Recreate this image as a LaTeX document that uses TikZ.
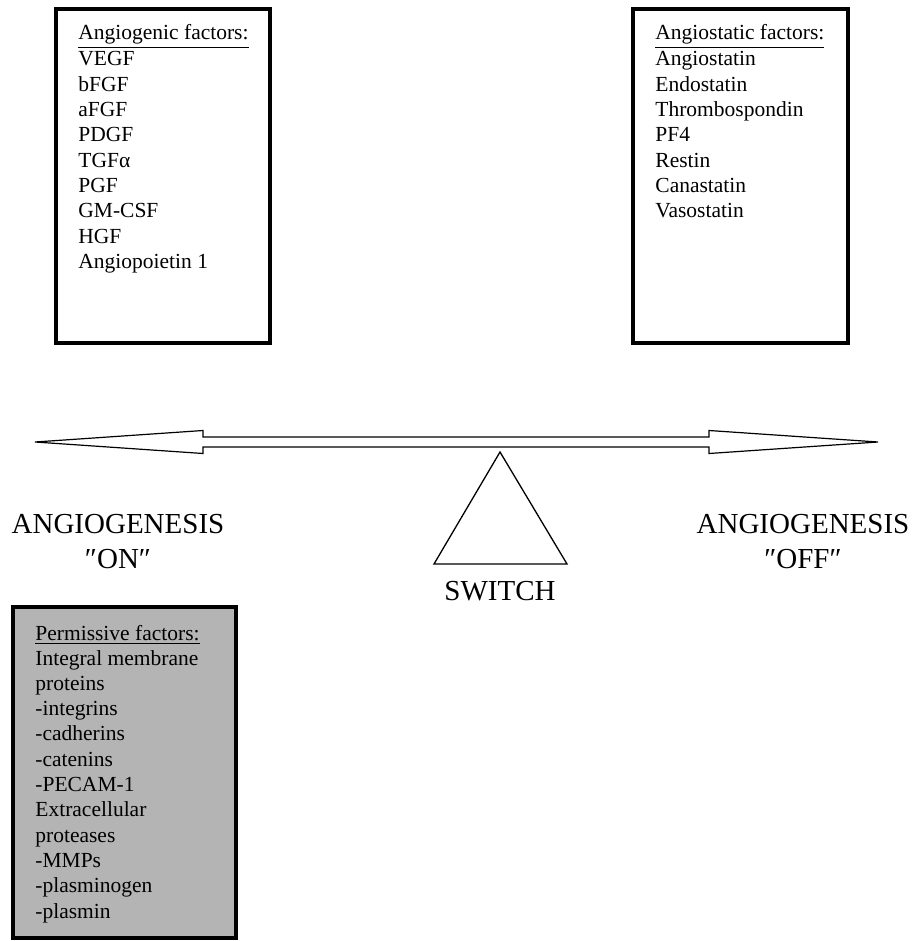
\documentclass[tikz,border=0pt]{standalone}
\usepackage{fontspec}
\setmainfont{Liberation Serif}
\definecolor{permgray}{RGB}{180,180,180}

\begin{document}
\begin{tikzpicture}[x=0.5pt,y=0.5pt,
  factorbox/.style={draw=black,line width=2pt},
  item/.style={anchor=base west,inner sep=0pt,font=\fontsize{10.75}{12.65}\selectfont},
  biglabel/.style={inner sep=0pt,align=center,font=\fontsize{14.5}{17.5}\selectfont}]
  \useasboundingbox (0,0) rectangle (916,-941);
  \draw [factorbox] (56,-9) rectangle (270,-343);
  \node [item] (genhead) at (78,-40) {\underline{Angiogenic factors:}};
  \foreach \name [count=\i from 0] in {VEGF,bFGF,aFGF,PDGF,TGFα,PGF,GM-CSF,HGF,Angiopoietin 1}
    \node [item] (gen\i) at (78,-66-25.3*\i) {\name};
  \draw [factorbox] (633,-9) rectangle (848,-343);
  \node [item] (stathead) at (655,-40) {\underline{Angiostatic factors:}};
  \foreach \name [count=\i from 0] in {Angiostatin,Endostatin,Thrombospondin,PF4,Restin,Canastatin,Vasostatin}
    \node [item] (stat\i) at (655,-66-25.3*\i) {\name};
  \draw [factorbox,fill=permgray] (13,-607) rectangle (236,-938);
  \node [item] (permhead) at (35,-640) {\underline{Permissive factors:}};
  \foreach \name [count=\i from 0] in {Integral membrane,proteins,-integrins,-cadherins,-catenins,-PECAM-1,Extracellular,proteases,-MMPs,-plasminogen,-plasmin}
    \node [item] (perm\i) at (35,-665-25.3*\i) {\name};
  \draw [black,line width=0.6pt] (35,-442) -- (203,-430.5) -- (203,-437) -- (709,-437)
    -- (709,-430.5) -- (878,-442) -- (709,-453.5) -- (709,-447) -- (203,-447)
    -- (203,-453.5) -- cycle;
  \draw [black,line width=0.65pt] (500,-452) -- (567,-564) -- (434,-564) -- cycle;
  \node [biglabel,anchor=north] (onlabel) at (118,-514) {ANGIOGENESIS\\″ON″};
  \node [biglabel,anchor=north] (offlabel) at (803,-514) {ANGIOGENESIS\\″OFF″};
  \node [biglabel,anchor=base] (switchlabel) at (500,-600) {SWITCH};
\end{tikzpicture}
\end{document}
